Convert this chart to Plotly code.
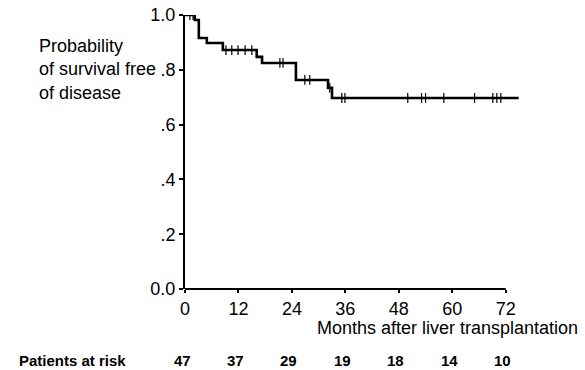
import numpy as np
import plotly.graph_objects as go

# Kaplan-Meier step data (months, survival probability)
step_times = [0, 2.2, 3.1, 4.9, 8.5, 16.1, 17.3, 24.9, 32.1, 33.0, 74.9]
step_surv = [1.0, 0.982, 0.916, 0.898, 0.872, 0.847, 0.825, 0.763, 0.734, 0.697, 0.697]

censor_times = [1.1, 1.8, 9.2, 10.5, 11.9, 13.5, 15.0, 21.3, 22.0, 26.9, 28.0, 32.5,
                35.2, 35.9, 50.0, 53.1, 54.0, 58.1, 65.0, 69.1, 70.0, 70.9]

x_ticks = [0, 12, 24, 36, 48, 60, 72]
y_ticks = [0.0, 0.2, 0.4, 0.6, 0.8, 1.0]
y_tick_labels = ["0.0", ".2", ".4", ".6", ".8", "1.0"]
at_risk = [47, 37, 29, 19, 18, 14, 10]


def surv_at(t):
    idx = np.searchsorted(step_times, t, side="right") - 1
    return step_surv[idx]


censor_surv = [surv_at(t) for t in censor_times]

font = "Liberation Sans, Arial, sans-serif"
W, H = 585, 370
L, R, T, B = 185, 65, 15, 81
plot_w = W - L - R
plot_h = H - T - B


def px(xp):
    return (xp - L) / plot_w


def py(yp):
    return (H - B - yp) / plot_h


fig = go.Figure()
fig.add_trace(go.Scatter(x=step_times, y=step_surv, mode="lines",
                         line=dict(shape="hv", color="black", width=2.6),
                         hoverinfo="skip", showlegend=False))
fig.add_trace(go.Scatter(x=censor_times, y=censor_surv, mode="markers",
                         marker=dict(symbol="line-ns", size=7,
                                     line=dict(color="black", width=1.2)),
                         hoverinfo="skip", showlegend=False))

fig.update_xaxes(range=[0, 75.2], tickvals=x_ticks, ticktext=[str(v) for v in x_ticks],
                 showline=False, showgrid=False, automargin=False,
                 zeroline=False, ticks="outside", ticklen=3, tickwidth=1.5,
                 tickcolor="black", tickfont=dict(family=font, size=18, color="black"))
fig.update_yaxes(range=[0, 1.0], tickvals=y_ticks, ticktext=y_tick_labels,
                 showline=True, linecolor="black", linewidth=2, showgrid=False,
                 automargin=False, zeroline=False, ticks="outside", ticklen=4,
                 tickwidth=1.5, tickcolor="black",
                 tickfont=dict(family=font, size=18, color="black"))

# x axis line spanning only to the last tick
fig.add_shape(type="line", xref="x", yref="paper", x0=x_ticks[0], x1=x_ticks[-1],
              y0=0, y1=0, line=dict(color="black", width=2))

ann = [
    dict(text="Probability<br>of survival free<br>of disease", x=px(37), y=py(69),
         xref="paper", yref="paper", showarrow=False, align="left",
         xanchor="left", yanchor="middle",
         font=dict(family=font, size=18, color="black")),
    dict(text="Months after liver transplantation", x=px(580), y=py(328),
         xref="paper", yref="paper", showarrow=False, xanchor="right",
         yanchor="middle", font=dict(family=font, size=18, color="black")),
    dict(text="<b>Patients at risk</b>", x=px(17), y=py(360),
         xref="paper", yref="paper", showarrow=False,
         xanchor="left", yanchor="middle",
         font=dict(family=font, size=15, color="black")),
]
for t, n in zip(x_ticks, at_risk):
    ann.append(dict(text=f"<b>{n}</b>", x=t, xref="x", y=py(360), yref="paper",
                    xshift=-3, showarrow=False, xanchor="center", yanchor="middle",
                    font=dict(family=font, size=15, color="black")))

fig.update_layout(
    template="none",
    width=W, height=H,
    margin=dict(l=L, r=R, t=T, b=B, pad=0),
    plot_bgcolor="white", paper_bgcolor="white",
    showlegend=False,
    annotations=ann,
)

fig.write_html("out.html", config={"displayModeBar": False},
               post_script="document.body.style.margin='0';document.body.style.overflow='hidden';")
